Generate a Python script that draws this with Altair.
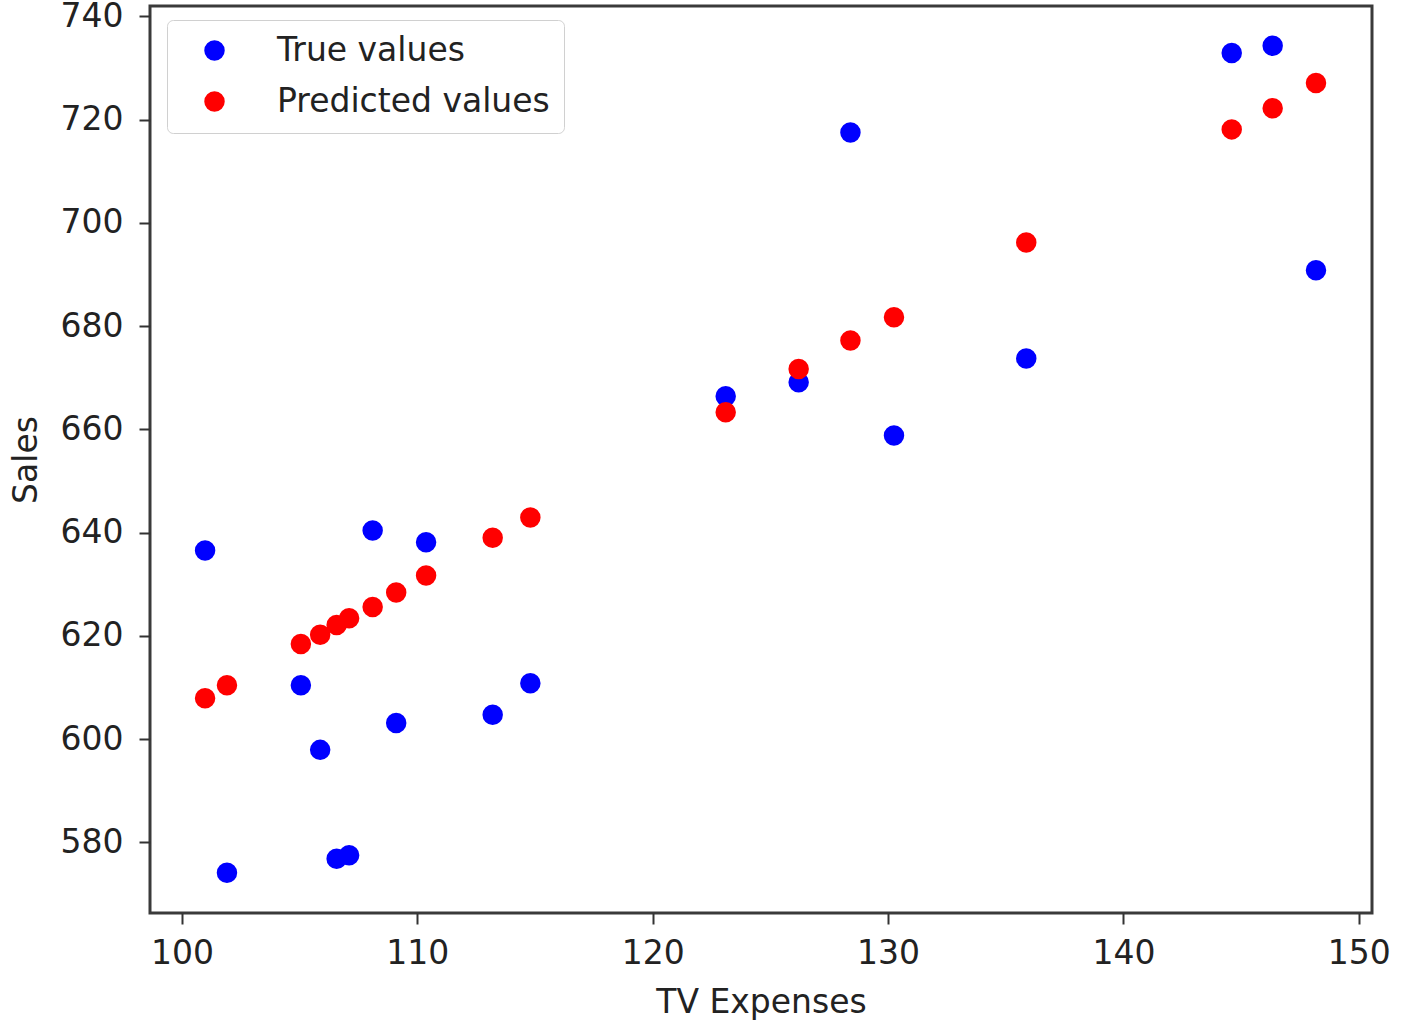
import altair as alt
import pandas as pd

tv_expenses = [100.98, 101.91, 105.05, 105.87, 106.57, 107.10, 108.10, 109.10,
               110.37, 113.20, 114.80, 123.10, 126.20, 128.40, 130.25, 135.87,
               144.60, 146.34, 148.18]
true_sales = [636.5, 574.1, 610.4, 597.9, 576.8, 577.5, 640.4, 603.1,
              638.1, 604.7, 610.8, 666.4, 669.1, 717.5, 658.8, 673.7,
              732.9, 734.3, 690.8]
predicted_sales = [607.9, 610.4, 618.4, 620.2, 622.1, 623.4, 625.6, 628.4,
                   631.7, 639.0, 642.9, 663.3, 671.7, 677.2, 681.7, 696.2,
                   718.1, 722.2, 727.1]
series_names = ["True values", "Predicted values"]
series_colors = ["#0000ff", "#ff0000"]

rows = []
for x, y in zip(tv_expenses, true_sales):
    rows.append({"TV Expenses": x, "Sales": y, "series": series_names[0], "order": 0})
for x, y in zip(tv_expenses, predicted_sales):
    rows.append({"TV Expenses": x, "Sales": y, "series": series_names[1], "order": 1})
df = pd.DataFrame(rows)

FONT = "DejaVu Sans"

chart = alt.Chart(df).mark_circle(size=420, opacity=1).encode(
    x=alt.X("TV Expenses:Q",
            scale=alt.Scale(domain=[98.64, 150.56], nice=False, zero=False),
            axis=alt.Axis(values=[100, 110, 120, 130, 140, 150], title="TV Expenses",
                          titlePadding=16)),
    y=alt.Y("Sales:Q",
            scale=alt.Scale(domain=[566.3, 742.0], nice=False, zero=False),
            axis=alt.Axis(values=[580, 600, 620, 640, 660, 680, 700, 720, 740], title="Sales",
                          titlePadding=17)),
    color=alt.Color("series:N",
                    scale=alt.Scale(domain=series_names, range=series_colors),
                    legend=alt.Legend(title=None, orient="none", legendX=17, legendY=14)),
    order=alt.Order("order:Q"),
).properties(
    width=1222,
    height=907,
    autosize=alt.AutoSizeParams(type="none"),
    padding={"left": 150, "top": 6, "right": 31, "bottom": 114},
).configure_view(
    stroke="#3a3a3a", strokeWidth=3
).configure_axis(
    grid=False,
    domain=False,
    tickSize=11,
    tickWidth=2,
    tickColor="#333333",
    labelFont=FONT,
    labelFontSize=33,
    labelColor="#222222",
    labelPadding=16,
    titleFont=FONT,
    titleFontSize=33,
    titleFontWeight="normal",
    titleColor="#222222",
).configure_axisX(
    labelPadding=13,
).configure_legend(
    labelFont=FONT,
    labelFontSize=33,
    labelColor="#222222",
    labelLimit=0,
    symbolType="circle",
    symbolSize=420,
    symbolStrokeWidth=0,
    symbolOpacity=1,
    labelOffset=46,
    symbolOffset=17,
    padding=14,
    rowPadding=17,
    fillColor="rgba(255,255,255,0.8)",
    strokeColor="#d0d0d0",
    cornerRadius=6,
)

chart.save("out.html", embed_options={"renderer": "svg", "actions": False})
